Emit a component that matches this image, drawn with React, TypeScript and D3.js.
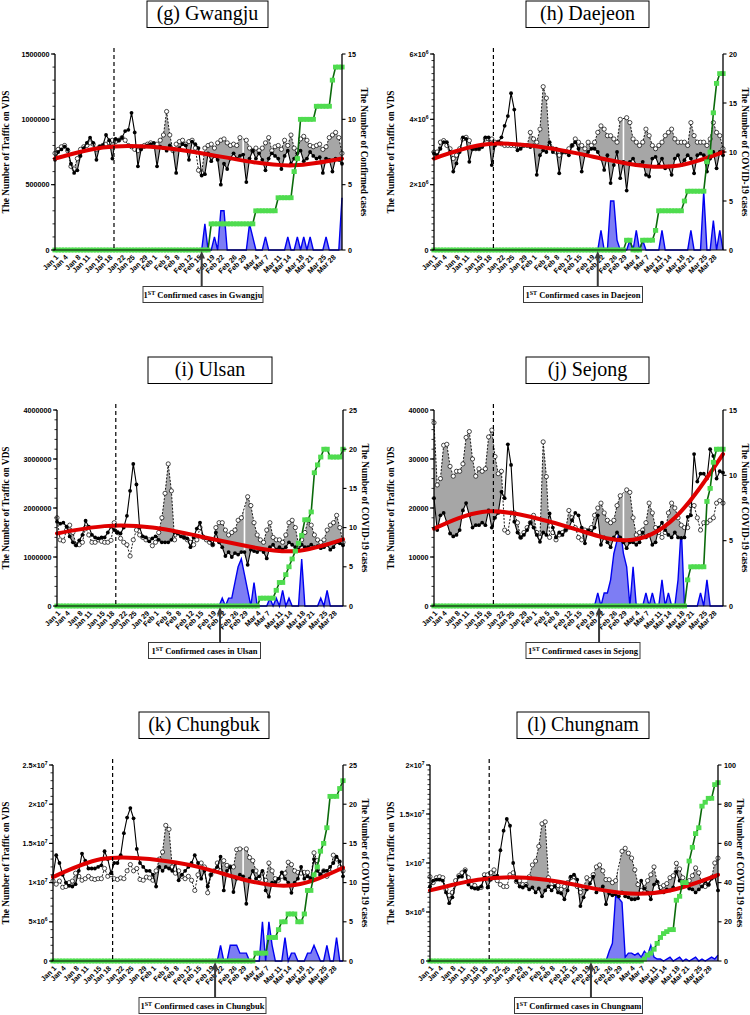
import React from 'react';
import * as d3 from 'd3';

// ---------- shared axis data ----------
const DAY_INDEX = d3.range(91); // Jan 1 .. Mar 31 (2020)
const TICK_DAYS = [0, 3, 7, 10, 14, 17, 21, 24, 28, 31, 35, 38, 42, 45, 49, 52, 56, 59, 63, 66, 70, 73, 77, 80, 84, 87];
const TICK_LABELS = ['Jan 1', 'Jan 4', 'Jan 8', 'Jan 11', 'Jan 15', 'Jan 18', 'Jan 22', 'Jan 25', 'Jan 29', 'Feb 1', 'Feb 5', 'Feb 8', 'Feb 12', 'Feb 15', 'Feb 19', 'Feb 22', 'Feb 26', 'Feb 29', 'Mar 4', 'Mar 7', 'Mar 11', 'Mar 14', 'Mar 18', 'Mar 21', 'Mar 25', 'Mar 28'];
const TREND_DAYS = [0, 15, 30, 45, 60, 75, 90];
const KOREA_FIRST_DAY = 18.5;

// ---------- (g) Gwangju : traffic in thousands ----------
const G_2020 = [690, 750, 770, 790, 770, 660, 590, 610, 720, 780, 820, 860, 820, 690, 790, 800, 880, 840, 700, 850, 840, 860, 910, 920, 1050, 900, 640, 770, 790, 800, 810, 820, 640, 790, 780, 760, 800, 770, 590, 780, 810, 800, 690, 830, 810, 780, 570, 580, 740, 680, 720, 690, 500, 660, 620, 700, 740, 700, 720, 730, 520, 700, 760, 700, 740, 690, 610, 700, 740, 720, 700, 620, 720, 760, 660, 700, 740, 760, 680, 700, 750, 720, 700, 710, 590, 700, 690, 600, 700, 690, 660];
const G_2019 = [740, 770, 790, 800, 760, 640, 620, 700, 770, 790, 800, 820, 810, 770, 790, 800, 810, 820, 840, 830, 840, 860, 840, 800, 790, 770, 760, 790, 800, 810, 820, 800, 810, 840, 880, 1060, 880, 760, 810, 830, 840, 810, 830, 840, 780, 610, 590, 780, 800, 810, 780, 820, 840, 850, 820, 800, 810, 800, 860, null, 840, 780, 760, 780, 760, 780, 820, 860, 760, 790, 800, 770, 840, 800, 880, 780, 760, 850, 870, 840, 800, 790, 800, 810, 770, 790, 860, 880, 900, 860, 740];
const G_TREND = [700, 785, 790, 745, 680, 648, 700];
const G_DAILY = [0, 0, 0, 0, 0, 0, 0, 0, 0, 0, 0, 0, 0, 0, 0, 0, 0, 0, 0, 0, 0, 0, 0, 0, 0, 0, 0, 0, 0, 0, 0, 0, 0, 0, 0, 0, 0, 0, 0, 0, 0, 0, 0, 0, 0, 0, 0, 2, 0, 0, 1, 0, 3, 3, 0, 0, 0, 0, 0, 0, 0, 2, 1, 0, 0, 0, 1, 0, 0, 0, 0, 0, 0, 1, 0, 0, 1, 0, 1, 0, 1, 0, 0, 0, 0, 1, 0, 0, 0, 0, 4];
const G_CUM = [0, 0, 0, 0, 0, 0, 0, 0, 0, 0, 0, 0, 0, 0, 0, 0, 0, 0, 0, 0, 0, 0, 0, 0, 0, 0, 0, 0, 0, 0, 0, 0, 0, 0, 0, 0, 0, 0, 0, 0, 0, 0, 0, 0, 0, 0, 0, 0, 0, 2, 2, 2, 2, 2, 2, 2, 2, 2, 2, 2, 2, 2, 2, 3, 3, 3, 3, 3, 3, 3, 4, 4, 4, 4, 4, 6, 7, 10, 10, 10, 10, 10, 11, 11, 11, 11, 11, 13, 14, 14, 14];

// ---------- (h) Daejeon : traffic in millions ----------
const H_2020 = [2.95, 2.9, 3.1, 3.3, 3.3, 3.0, 2.4, 2.65, 3.0, 3.45, 3.4, 2.7, 3.1, 3.1, 3.1, 3.15, 3.45, 3.45, 2.6, 3.2, 3.3, 3.45, 3.8, 4.1, 4.8, 4.3, 3.05, 3.1, 3.2, 3.2, 3.15, 3.2, 2.3, 2.9, 3.05, 3.0, 3.3, 3.0, 3.1, 2.35, 3.0, 3.0, 2.9, 3.2, 3.3, 3.1, 2.4, 2.9, 3.0, 3.1, 3.1, 3.0, 2.8, 2.45, 2.9, 2.05, 2.6, 3.0, 2.2, 2.7, 1.82, 2.7, 2.8, 2.6, 2.6, 2.7, 2.3, 2.25, 2.8, 2.85, 2.6, 2.8, 2.5, 2.55, 2.3, 2.8, 2.9, 2.6, 2.75, 2.9, 2.8, 2.35, 2.9, 2.95, 2.9, 2.4, 2.8, 3.0, 2.5, 3.0, 2.9];
const H_2019 = [3.0, 3.0, 3.3, 3.35, 3.2, 3.1, 2.8, 2.9, 3.1, 3.4, 3.45, 3.35, 3.1, 3.1, 3.1, 3.2, 3.4, 3.4, 3.4, 3.3, 3.3, 3.25, 3.2, 3.2, 3.2, 3.2, 3.15, 3.2, 3.2, 3.2, 3.6, 3.4, 3.3, 3.7, 5.0, 4.65, 3.2, 3.1, 3.0, 2.9, 3.0, 3.0, 3.1, 3.2, 3.4, 3.3, 3.2, 3.1, 3.3, 3.2, 3.3, 3.6, 3.8, 3.7, 3.5, 3.5, 3.4, 3.3, 4.0, null, 4.05, 3.9, 3.4, 3.3, 3.2, 3.3, 3.7, 3.5, 3.2, 3.1, 3.2, 3.3, 3.5, 3.6, 3.7, 3.4, 3.3, 3.3, 3.3, 3.2, 3.9, 3.5, 3.3, 3.3, 3.3, 3.2, 3.4, 3.9, 3.6, 3.5, 3.1];
const H_TREND = [2.8, 3.22, 3.2, 2.95, 2.65, 2.57, 3.0];
const H_DAILY = [0, 0, 0, 0, 0, 0, 0, 0, 0, 0, 0, 0, 0, 0, 0, 0, 0, 0, 0, 0, 0, 0, 0, 0, 0, 0, 0, 0, 0, 0, 0, 0, 0, 0, 0, 0, 0, 0, 0, 0, 0, 0, 0, 0, 0, 0, 0, 0, 0, 0, 0, 0, 2, 0, 0, 5, 5, 1, 0, 0, 0, 1, 0, 2, 0, 1, 0, 0, 0, 0, 0, 2, 0, 0, 0, 0, 0, 0, 0, 0, 2, 0, 0, 0, 6, 0, 0, 3, 0, 2, 0];
const H_CUM = [0, 0, 0, 0, 0, 0, 0, 0, 0, 0, 0, 0, 0, 0, 0, 0, 0, 0, 0, 0, 0, 0, 0, 0, 0, 0, 0, 0, 0, 0, 0, 0, 0, 0, 0, 0, 0, 0, 0, 0, 0, 0, 0, 0, 0, 0, 0, 0, 0, 0, 0, 0, 0, 0, 0, 0, 0, 0, 0, 0, 1, 1, 0, 0, 0, 1, 1, 1, 1, 2, 4, 4, 4, 4, 4, 4, 4, 4, 5, 6, 6, 6, 6, 6, 6, 9, 10, 14, 17, 18, 18];

// ---------- (i) Ulsan : traffic in millions ----------
const I_2020 = [1.72, 1.68, 1.7, 1.62, 1.42, 1.3, 1.24, 1.34, 1.45, 1.74, 1.62, 1.45, 1.4, 1.38, 1.4, 1.4, 1.5, 1.62, 1.55, 1.5, 1.48, 1.6, 1.84, 2.35, 2.9, 2.48, 1.6, 1.42, 1.4, 1.32, 1.38, 1.42, 1.35, 1.3, 1.3, 1.3, 1.35, 1.5, 1.48, 1.42, 1.4, 1.38, 1.2, 1.4, 1.58, 1.7, 1.42, 1.38, 1.35, 1.25, 1.5, 1.3, 1.2, 1.02, 1.1, 1.0, 1.08, 1.05, 1.1, 1.1, 0.84, 1.15, 1.12, 1.1, 1.15, 1.1, 0.97, 1.2, 1.25, 1.15, 1.2, 1.15, 1.2, 1.3, 1.25, 1.2, 1.15, 1.25, 1.2, 1.2, 1.25, 1.2, 1.22, 1.18, 1.2, 1.25, 1.15, 1.2, 1.3, 1.28, 1.24];
const I_2019 = [1.8, 1.35, 1.33, 1.55, 1.65, 1.5, 1.25, 1.25, 1.3, 1.6, 1.45, 1.3, 1.3, 1.35, 1.32, 1.3, 1.3, 1.34, 1.7, 1.5, 1.38, 1.3, 1.25, 1.02, 1.35, 1.55, 1.45, 1.4, 1.35, 1.35, 1.23, 1.3, 1.5, 1.8, 2.3, 2.9, 2.35, 1.35, 1.5, 1.45, 1.4, 1.35, 1.3, 1.25, 1.35, 1.6, 1.4, 1.35, 1.3, 1.25, 1.6, 1.7, 1.7, 1.55, 1.45, 1.5, 1.55, 1.75, 1.8, null, 2.23, 2.05, 1.7, 1.45, 1.35, 1.3, 1.55, 1.7, 1.4, 1.35, 1.35, 1.3, 1.45, 1.7, 1.75, 1.6, 1.25, 1.35, 1.5, 1.75, 1.65, 1.45, 1.35, 1.3, 1.35, 1.55, 1.65, 1.7, 1.85, 1.6, 1.3];
const I_TREND = [1.48, 1.63, 1.6, 1.42, 1.22, 1.12, 1.36];
const I_DAILY = [0, 0, 0, 0, 0, 0, 0, 0, 0, 0, 0, 0, 0, 0, 0, 0, 0, 0, 0, 0, 0, 0, 0, 0, 0, 0, 0, 0, 0, 0, 0, 0, 0, 0, 0, 0, 0, 0, 0, 0, 0, 0, 0, 0, 0, 0, 0, 0, 0, 0, 0, 0, 1, 0, 1, 1, 3, 5, 6, 4, 2, 0, 3, 0, 0, 0, 0, 1, 0, 1, 0, 2, 0, 1, 0, 0, 0, 6, 0, 0, 0, 0, 0, 1, 0, 2, 0, 0, 0, 0, 0];
const I_CUM = [0, 0, 0, 0, 0, 0, 0, 0, 0, 0, 0, 0, 0, 0, 0, 0, 0, 0, 0, 0, 0, 0, 0, 0, 0, 0, 0, 0, 0, 0, 0, 0, 0, 0, 0, 0, 0, 0, 0, 0, 0, 0, 0, 0, 0, 0, 0, 0, 0, 0, 0, 0, 0, 0, 0, 0, 0, 0, 0, 0, 0, 0, 0, 0, 1, 1, 1, 1, 1, 2, 3, 3, 4, 5, 6, 7, 8, 9, 11, 11, 12, 17, 18, 19, 20, 20, 19, 19, 19, 19, 20];

// ---------- (j) Sejong : traffic in thousands ----------
const J_2020 = [22, 15.5, 18.5, 19, 17, 14.8, 14.2, 14.5, 15.5, 19.5, 21, 18.5, 16, 16.5, 16.5, 17, 16.5, 19.5, 16, 18, 19, 23.3, 22, 33, 28.8, 17.2, 15, 14, 14.5, 15.5, 17, 16, 14.5, 13.1, 15, 14.5, 18.9, 16, 14, 15, 14.5, 15.5, 16, 17.5, 19, 18.5, 16, 12.8, 15.5, 15, 16, 18.5, 12.5, 14, 13, 12, 14, 15, 14, 13, 11.8, 13, 13, 12.5, 13, 15, 14, 14.5, 12.5, 13, 16, 17, 15.5, 14.5, 14, 15, 14, 13.9, 14, 18.2, 18.5, 31, 25.4, 27, 27, 26, 32, 30.6, 26, 27.5, 27.2];
const J_2019 = [37.4, 24.7, 26, 32.8, 33, 28.5, 26.5, 27.5, 27.5, 29, 34.4, 35.6, 30, 26.5, 28, 27.5, 28, 34.5, 35.9, 30.5, 27, 27.5, 15.5, 15, 19, 19, 17, 14, 15, 16, 17, 18.5, 15, 14, 33.5, 26.4, 14, 15, 13.5, 14.5, 15, 15.5, 19.5, 18, 16, 14, 13.5, 15.5, 15, 16, 18.5, 20, 21, 19, 17.5, 17, 17.5, 20.5, 22.5, null, 23.7, 23.2, 18, 14.5, 15, 15.5, 17, 21, 19, 16, 15, 14, 15, 19, 21, 20, 18, 16.5, 16, 16, 20.5, 20.5, 18, 15.5, 17, 17, 17.5, 18, 21, 21.5, 21];
const J_TREND = [15.8, 19.2, 18.2, 15.5, 13.4, 18, 31];
const J_DAILY = [0, 0, 0, 0, 0, 0, 0, 0, 0, 0, 0, 0, 0, 0, 0, 0, 0, 0, 0, 0, 0, 0, 0, 0, 0, 0, 0, 0, 0, 0, 0, 0, 0, 0, 0, 0, 0, 0, 0, 0, 0, 0, 0, 0, 0, 0, 0, 0, 0, 0, 0, 1, 0, 1, 1, 2, 4, 5, 6, 4, 3, 0, 3, 0, 0, 0, 1, 0, 1, 0, 0, 2, 0, 1, 0, 0, 2, 6, 0, 0, 0, 0, 0, 1, 0, 2, 0, 0, 0, 0, 0];
const J_CUM = [0, 0, 0, 0, 0, 0, 0, 0, 0, 0, 0, 0, 0, 0, 0, 0, 0, 0, 0, 0, 0, 0, 0, 0, 0, 0, 0, 0, 0, 0, 0, 0, 0, 0, 0, 0, 0, 0, 0, 0, 0, 0, 0, 0, 0, 0, 0, 0, 0, 0, 0, 0, 0, 0, 0, 0, 0, 0, 0, 0, 0, 0, 0, 0, 0, 0, 0, 0, 0, 0, 0, 0, 0, 0, 0, 0, 0, 0, 0, 2, 3, 3, 3, 3, 3, 8, 9, 11, 12, 12, 12];

// ---------- (k) Chungbuk : traffic in millions ----------
const K_2020 = [10.8, 13.5, 12.5, 11.0, 10.0, 9.6, 9.5, 9.8, 11.5, 13.7, 12.8, 11.8, 11.8, 11.8, 12.0, 12.2, 14.0, 13.0, 11.2, 12.5, 12.5, 13.5, 16.3, 18.3, 19.5, 18.2, 14.3, 12.5, 12.0, 11.5, 11.5, 11.0, 9.5, 12.0, 11.5, 12.0, 11.8, 11.5, 12.5, 10.3, 11.0, 11.5, 12.0, 12.5, 13.5, 12.5, 10.5, 11.5, 9.5, 11.0, 11.5, 12.0, 13.3, 9.0, 11.5, 12.0, 8.8, 10.5, 11.0, 10.8, 7.3, 10.5, 11.5, 10.5, 10.8, 11.5, 9.0, 8.2, 10.0, 10.0, 10.5, 11.3, 10.5, 10.0, 8.7, 10.0, 10.5, 12.0, 10.5, 10.8, 10.5, 13.0, 11.5, 11.0, 11.5, 11.5, 12.0, 12.5, 13.3, 12.7, 10.8];
const K_2019 = [10.2, 9.8, 10.2, 9.4, 9.5, 10.0, 10.2, 11.2, 10.8, 10.3, 10.5, 10.8, 10.5, 10.4, 10.5, 10.5, 11.8, 10.8, 11.0, 10.5, 10.4, 10.6, 10.5, 11.5, 12.3, 11.5, 11.8, 10.4, 10.3, 10.7, 10.6, 10.3, 11.5, 13.0, 13.9, 17.3, 16.8, 12.0, 11.2, 11.5, 10.8, 10.5, 10.8, 10.3, 9.0, 11.0, 12.5, 12.0, 8.7, 11.0, 11.5, 12.5, 11.5, 12.8, 12.2, 12.0, 12.0, 14.2, 14.3, null, 14.3, 13.2, 12.8, 11.5, 10.5, 11.2, 10.3, 12.5, 11.5, 10.5, 10.3, 10.8, 11.2, 12.6, 12.3, 11.5, 11.3, 11.2, 11.3, 11.3, 10.5, 13.8, 12.8, 11.0, 11.5, 10.8, 11.3, 13.5, 13.0, 12.0, 11.5];
const K_TREND = [10.7, 13.0, 13.0, 12.0, 10.3, 9.7, 11.9];
const K_DAILY = [0, 0, 0, 0, 0, 0, 0, 0, 0, 0, 0, 0, 0, 0, 0, 0, 0, 0, 0, 0, 0, 0, 0, 0, 0, 0, 0, 0, 0, 0, 0, 0, 0, 0, 0, 0, 0, 0, 0, 0, 0, 0, 0, 0, 0, 0, 0, 0, 0, 0, 0, 0, 2, 0, 0, 2, 2, 2, 1, 1, 1, 0, 0, 0, 0, 5, 0, 5, 2, 0, 0, 0, 3, 0, 1, 1, 0, 0, 0, 1, 1, 2, 1, 0, 0, 2, 0, 0, 3, 0, 0];
const K_CUM = [0, 0, 0, 0, 0, 0, 0, 0, 0, 0, 0, 0, 0, 0, 0, 0, 0, 0, 0, 0, 0, 0, 0, 0, 0, 0, 0, 0, 0, 0, 0, 0, 0, 0, 0, 0, 0, 0, 0, 0, 0, 0, 0, 0, 0, 0, 0, 0, 0, 0, 0, 0, 0, 0, 0, 0, 0, 0, 0, 0, 0, 0, 0, 1, 1, 1, 1, 3, 3, 3, 4, 5, 5, 6, 6, 6, 5, 5, 6, 9, 9, 11, 12, 14, 15, 17, 21, 21, 21, 22, 23];

// ---------- (l) Chungnam : traffic in millions ----------
const L_2020 = [7.6, 8.2, 8.3, 8.3, 8.2, 7.0, 5.9, 6.5, 7.8, 8.6, 8.6, 9.2, 7.8, 7.5, 7.4, 7.4, 7.6, 8.5, 7.5, 8.3, 8.6, 8.7, 11.3, 13.3, 14.5, 13.8, 10.0, 8.2, 7.6, 7.5, 7.7, 7.3, 7.5, 7.0, 7.4, 6.6, 7.2, 7.6, 7.2, 7.6, 7.0, 6.9, 6.3, 7.2, 8.6, 8.8, 8.3, 5.6, 6.5, 7.3, 7.9, 8.6, 7.0, 7.3, 7.6, 5.8, 6.9, 6.7, 6.8, 6.6, 7.0, 6.6, 6.5, 6.3, 6.3, 6.4, 8.2, 7.4, 7.0, 6.3, 7.8, 8.1, 7.1, 7.0, 7.3, 7.2, 7.5, 9.1, 8.2, 7.7, 8.0, 7.4, 7.3, 7.0, 7.3, 7.6, 8.1, 7.8, 8.4, 8.6, 7.2];
const L_2019 = [8.6, 8.0, 8.5, 8.6, 8.5, 7.3, 6.7, 7.0, 8.2, 8.7, 9.0, 9.3, 8.5, 7.8, 7.7, 7.4, 7.5, 8.8, 8.8, 9.0, 9.3, 8.2, 7.8, 7.6, 7.6, 8.8, 9.0, 8.1, 8.2, 7.8, 7.8, 8.6, 9.8, 10.2, 11.7, 14.0, 14.2, 8.5, 7.5, 8.0, 7.7, 7.3, 7.6, 8.0, 8.5, 8.6, 7.6, 7.0, 7.5, 8.5, 8.3, 8.8, 9.6, 9.8, 9.2, 8.3, 8.3, 8.0, 8.2, null, 11.2, 11.5, 11.0, 10.5, 9.3, 7.8, 7.2, 7.5, 8.2, 8.8, 9.6, 8.0, 7.5, 7.7, 7.9, 8.5, 8.7, 9.97, 9.4, 8.5, 7.8, 8.2, 8.7, 9.5, 9.0, 7.8, 7.6, 7.8, 8.5, 10.0, 10.5];
const L_TREND = [7.2, 8.3, 8.5, 7.8, 6.95, 7.2, 8.8];
const L_DAILY = [0, 0, 0, 0, 0, 0, 0, 0, 0, 0, 0, 0, 0, 0, 0, 0, 0, 0, 0, 0, 0, 0, 0, 0, 0, 0, 0, 0, 0, 0, 0, 0, 0, 0, 0, 0, 0, 0, 0, 0, 0, 0, 0, 0, 0, 0, 0, 0, 0, 0, 0, 0, 0, 0, 0, 0, 5, 9, 33, 32, 30, 2, 4, 4, 3, 4, 2, 5, 3, 8, 2, 1, 1, 0, 1, 2, 0, 1, 2, 0, 1, 0, 1, 2, 0, 1, 0, 1, 2, 1, 3];
const L_CUM = [0, 0, 0, 0, 0, 0, 0, 0, 0, 0, 0, 0, 0, 0, 0, 0, 0, 0, 0, 0, 0, 0, 0, 0, 0, 0, 0, 0, 0, 0, 0, 0, 0, 0, 0, 0, 0, 0, 0, 0, 0, 0, 0, 0, 0, 0, 0, 0, 0, 0, 0, 0, 0, 0, 0, 0, 0, 0, 0, 0, 0, 0, 0, 0, 0, 0, 0, 1, 3, 4, 6, 9, 12, 14, 15, 16, 16, 31, 33, 40, 40, 51, 58, 65, 68, 79, 81, 83, 83, 90, 91];

// ---------- layout ----------
const SERIF = "Liberation Serif, Times New Roman, serif";
const SANS = "Liberation Sans, Arial, sans-serif";

const PANELS = [
  { key: 'g', title: '(g) Gwangju', region: 'Gwangju', col: 0, left: 55, right: 342, top: 54, bottom: 250, titleCx: 207.5, titleW: 121, noteW: 120,
    yMax: 1500, yMinor: 100, yTicks: [0, 500, 1000, 1500], yLabels: ['0', '500000', '1000000', '1500000'],
    rMax: 15, rTicks: [0, 5, 10, 15], rTitle: 'The Number of Confirmed cases', arrowDay: 46,
    cur: G_2020, prev: G_2019, trend: G_TREND, daily: G_DAILY, cum: G_CUM },
  { key: 'h', title: '(h) Daejeon', region: 'Daejeon', col: 1, left: 434, right: 723, top: 54, bottom: 250, titleCx: 587.5, titleW: 123, noteW: 119,
    yMax: 6, yMinor: 0.2, yTicks: [0, 2, 4, 6], yLabels: ['0', '2×10^6', '4×10^6', '6×10^6'],
    rMax: 20, rTicks: [0, 5, 10, 15, 20], rTitle: 'The Number of COVID-19 cases', arrowDay: 51,
    cur: H_2020, prev: H_2019, trend: H_TREND, daily: H_DAILY, cum: H_CUM },
  { key: 'i', title: '(i) Ulsan', region: 'Ulsan', col: 0, left: 57, right: 343, top: 410, bottom: 606, titleCx: 210, titleW: 124, noteW: 112,
    yMax: 4, yMinor: 0.2, yTicks: [0, 1, 2, 3, 4], yLabels: ['0', '1000000', '2000000', '3000000', '4000000'],
    rMax: 25, rTicks: [0, 5, 10, 15, 20, 25], rTitle: 'The Number of COVID-19 cases', arrowDay: 51.3,
    cur: I_2020, prev: I_2019, trend: I_TREND, daily: I_DAILY, cum: I_CUM },
  { key: 'j', title: '(j) Sejong', region: 'Sejong', col: 1, left: 434, right: 723, top: 410, bottom: 606, titleCx: 587.5, titleW: 123, noteW: 114,
    yMax: 40, yMinor: 2, yTicks: [0, 10, 20, 30, 40], yLabels: ['0', '10000', '20000', '30000', '40000'],
    rMax: 15, rTicks: [0, 5, 10, 15], rTitle: 'The Number of COVID-19 cases', arrowDay: 51.4,
    cur: J_2020, prev: J_2019, trend: J_TREND, daily: J_DAILY, cum: J_CUM },
  { key: 'k', title: '(k) Chungbuk', region: 'Chungbuk', col: 0, left: 53, right: 343, top: 765, bottom: 961, titleCx: 204, titleW: 130, noteW: 127,
    yMax: 25, yMinor: 1, yTicks: [0, 5, 10, 15, 20, 25], yLabels: ['0', '5×10^6', '1×10^7', '1.5×10^7', '2×10^7', '2.5×10^7'],
    rMax: 25, rTicks: [0, 5, 10, 15, 20, 25], rTitle: 'The Number of COVID-19 cases', arrowDay: 50.3,
    cur: K_2020, prev: K_2019, trend: K_TREND, daily: K_DAILY, cum: K_CUM },
  { key: 'l', title: '(l) Chungnam', region: 'Chungnam', col: 1, left: 430, right: 718, top: 765, bottom: 961, titleCx: 583, titleW: 132, noteW: 128,
    yMax: 20, yMinor: 0.5, yTicks: [0, 5, 10, 15, 20], yLabels: ['0', '5×10^6', '1×10^7', '1.5×10^7', '2×10^7'],
    rMax: 100, rTicks: [0, 20, 40, 60, 80, 100], rTitle: 'The Number of COVID-19 cases', arrowDay: 50.3,
    cur: L_2020, prev: L_2019, trend: L_TREND, daily: L_DAILY, cum: L_CUM },
];

function TickText({ text }: { text: string }) {
  const [base, exp] = text.split('^');
  return (
    <>
      {base}
      {exp !== undefined && <tspan dy={-3} fontSize={5}>{exp}</tspan>}
    </>
  );
}

function Panel({ p }: { p: any }) {
  const x = d3.scaleLinear().domain([0, 90]).range([p.left, p.right]);
  const y = d3.scaleLinear().domain([0, p.yMax]).range([p.bottom, p.top]);
  const r = d3.scaleLinear().domain([0, p.rMax]).range([p.bottom, p.top]);
  const cur: number[] = p.cur;
  const prev: (number | null)[] = p.prev;
  const both = DAY_INDEX.filter((i) => prev[i] != null);
  const gaps = DAY_INDEX.filter((i) => prev[i] == null);
  const clipId = `above-${p.key}`;

  // region of the plot lying above the 2020 line (gray shows only where 2019 > 2020)
  const clipD = d3.area<number>().x((i) => x(i)).y0(p.top).y1((i) => y(cur[i]))(DAY_INDEX) || '';
  const grayD = d3.area<number>().x((i) => x(i)).y0((i) => y(cur[i])).y1((i) => y(prev[i] as number))(both) || '';
  const prevD = d3.line<number>().x((i) => x(i)).y((i) => y(prev[i] as number))(both) || '';
  const curD = d3.line<number>().x((i) => x(i)).y((i) => y(cur[i]))(DAY_INDEX) || '';
  const trendD = d3.line<number>().x((_, k) => x(TREND_DAYS[k])).y((d) => y(d)).curve(d3.curveNatural)(p.trend) || '';
  const blueArea = d3.area<number>().x((i) => x(i)).y0(r(0)).y1((i) => r(p.daily[i]))(DAY_INDEX) || '';
  const blueLine = d3.line<number>().x((i) => x(i)).y((i) => r(p.daily[i]))(DAY_INDEX) || '';
  const greenLine = d3.line<number>().x((i) => x(i)).y((i) => r(p.cum[i]))(DAY_INDEX) || '';

  const nMinor = Math.round(p.yMax / p.yMinor);
  const minor = d3.range(nMinor + 1).map((k) => k * p.yMinor);
  const midY = (p.top + p.bottom) / 2;
  const leftTitleX = p.col === 0 ? 6 : 391;
  const rightTitleX = p.right + 22;
  const noteCx = (p.left + p.right) / 2 + 4.5;
  const noteTop = p.bottom + 36.5;
  const ax = x(p.arrowDay);
  const titleTop = p.top - 53;

  return (
    <g>
      <rect x={p.titleCx - p.titleW / 2} y={titleTop} width={p.titleW} height={26.5} fill="#fff" stroke="#000" strokeWidth={1} />
      <text x={p.titleCx} y={titleTop + 18.5} textAnchor="middle" fontFamily={SERIF} fontSize={20}>{p.title}</text>

      <defs>
        <clipPath id={clipId}><path d={clipD} /></clipPath>
      </defs>

      <path d={blueArea} fill="#7d7df4" stroke="none" />
      <path d={blueLine} fill="none" stroke="#0000f0" strokeWidth={1.4} />

      <g clipPath={`url(#${clipId})`}>
        <path d={grayD} fill="#a6a6a6" stroke="none" />
        {gaps.map((i) => (
          <rect key={i} x={x(i) - 0.8} y={p.top} width={1.6} height={Math.max(0, y(cur[i]) - p.top)} fill="#fff" />
        ))}
      </g>

      <path d={prevD} fill="none" stroke="#000" strokeWidth={0.9} strokeDasharray="2,1.5" />
      {both.map((i) => (
        <circle key={'o' + i} cx={x(i)} cy={y(prev[i] as number)} r={2.1} fill="#fff" stroke="#000" strokeWidth={0.7} />
      ))}
      <path d={curD} fill="none" stroke="#000" strokeWidth={1.1} />
      {DAY_INDEX.map((i) => (
        <circle key={'f' + i} cx={x(i)} cy={y(cur[i])} r={1.9} fill="#000" />
      ))}

      <path d={trendD} fill="none" stroke="#e00000" strokeWidth={4} strokeLinecap="round" />

      <path d={greenLine} fill="none" stroke="#0b6a0b" strokeWidth={1.6} />
      {DAY_INDEX.map((i) => (
        <rect key={'s' + i} x={x(i) - 2.6} y={r(p.cum[i]) - 2.4} width={5.2} height={4.8} fill="#4fdc4f" />
      ))}

      <line x1={x(KOREA_FIRST_DAY)} x2={x(KOREA_FIRST_DAY)} y1={p.top - 6} y2={p.bottom} stroke="#000" strokeWidth={1.2} strokeDasharray="4,3" />

      <line x1={p.left} x2={p.left} y1={p.top} y2={p.bottom} stroke="#000" strokeWidth={1.3} />
      <line x1={p.right} x2={p.right} y1={p.top} y2={p.bottom} stroke="#000" strokeWidth={1.3} />
      <line x1={p.left} x2={p.right} y1={p.bottom} y2={p.bottom} stroke="#000" strokeWidth={1} />
      {minor.map((v) => (
        <line key={'m' + v} x1={p.left - 2.5} x2={p.left} y1={y(v)} y2={y(v)} stroke="#000" strokeWidth={0.8} />
      ))}
      {p.yTicks.map((v: number, k: number) => (
        <g key={'yt' + v}>
          <line x1={p.left - 4} x2={p.left} y1={y(v)} y2={y(v)} stroke="#000" strokeWidth={1.1} />
          <text x={p.left - 5.5} y={y(v)} dy="0.35em" textAnchor="end" fontFamily={SANS} fontWeight="bold" fontSize={7.2}>
            <TickText text={p.yLabels[k]} />
          </text>
        </g>
      ))}
      {p.rTicks.map((v: number) => (
        <g key={'rt' + v}>
          <line x1={p.right} x2={p.right + 3.5} y1={r(v)} y2={r(v)} stroke="#000" strokeWidth={1.1} />
          <text x={p.right + 6} y={r(v)} dy="0.35em" textAnchor="start" fontFamily={SANS} fontWeight="bold" fontSize={7.2}>{v}</text>
        </g>
      ))}
      {TICK_DAYS.map((d, k) => (
        <text key={'xt' + d} transform={`translate(${x(d) + 2},${p.bottom + 6}) rotate(-45)`} dy="0.35em" textAnchor="end" fontFamily={SANS} fontWeight="bold" fontSize={7.2}>
          {TICK_LABELS[k]}
        </text>
      ))}

      <text transform={`translate(${leftTitleX},${midY}) rotate(-90)`} textAnchor="middle" dy="0.35em" fontFamily={SERIF} fontWeight="bold" fontSize={9.3}>
        The Number of Traffic on VDS
      </text>
      <text transform={`translate(${rightTitleX},${midY}) rotate(90)`} textAnchor="middle" dy="0.35em" fontFamily={SERIF} fontWeight="bold" fontSize={9.3}>
        {p.rTitle}
      </text>

      <line x1={ax} x2={ax} y1={noteTop} y2={p.bottom + 7} stroke="#3a3a3a" strokeWidth={2} />
      <path d={`M${ax},${p.bottom + 1}L${ax - 3.3},${p.bottom + 8.5}L${ax + 3.3},${p.bottom + 8.5}Z`} fill="#3a3a3a" />
      <rect x={noteCx - p.noteW / 2} y={noteTop} width={p.noteW} height={16} fill="#fff" stroke="#3a3a3a" strokeWidth={1} />
      <text x={noteCx} y={noteTop + 11.5} textAnchor="middle" fontFamily={SERIF} fontWeight="bold" fontSize={8.5}>
        1<tspan dy={-3} fontSize={6}>ST</tspan><tspan dy={3}> Confirmed cases in {p.region}</tspan>
      </text>
    </g>
  );
}

export default function App() {
  return (
    <svg width={750} height={1015} viewBox="0 0 750 1015" style={{ position: 'absolute', left: 0, top: 0, background: '#fff' }}>
      <rect x={0} y={0} width={750} height={1015} fill="#fff" />
      {PANELS.map((p) => (
        <Panel key={p.key} p={p} />
      ))}
    </svg>
  );
}
